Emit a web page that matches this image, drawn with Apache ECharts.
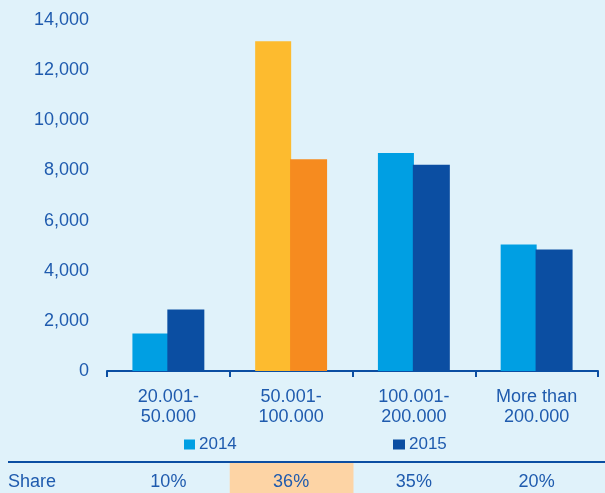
<!DOCTYPE html>
<html>
<head>
<meta charset="utf-8">
<script src="https://cdn.jsdelivr.net/npm/echarts@6/dist/echarts.min.js"></script>
<style>
  html, body { margin: 0; padding: 0; background: #E0F2FA; }
  #chart { width: 605px; height: 493px; }
</style>
</head>
<body>
<div id="chart"></div>
<script>
// Income bands and counts per year
const categories = ['20.001-\n50.000', '50.001-\n100.000', '100.001-\n200.000', 'More than\n200.000'];
const values2014 = [1500, 13150, 8700, 5050];
const values2015 = [2450, 8450, 8230, 4850];
const shareLabels = ['10%', '36%', '35%', '20%'];
const highlightIndex = 1;

const TEXT = '#1F5BAE';
const C2014 = '#009FE3';
const C2015 = '#0B4EA2';
const HL2014 = '#FDBB2F';
const HL2015 = '#F68B1F';
const FONT = 'Liberation Sans, Arial, sans-serif';

function itemsFor(values, base, hl) {
  return values.map((v, i) => i === highlightIndex
    ? { value: v, itemStyle: { color: hl } }
    : { value: v, itemStyle: { color: base } });
}

const chart = echarts.init(document.getElementById('chart'), null, { renderer: 'canvas' });

const option = {
  backgroundColor: '#E0F2FA',
  animation: false,
  textStyle: { fontFamily: FONT },
  grid: { left: 107, right: 7, top: 20, bottom: 122 },
  legend: [
    {
      data: ['2014'], left: 184, top: 436, padding: 0, itemWidth: 11, itemHeight: 10, itemGap: 0,
      icon: 'rect',
      textStyle: { color: TEXT, fontSize: 17, fontFamily: FONT, padding: [0, 0, 0, -1] }
    },
    {
      data: ['2015'], left: 393, top: 436, padding: 0, itemWidth: 12, itemHeight: 10, itemGap: 0,
      icon: 'rect',
      textStyle: { color: TEXT, fontSize: 17, fontFamily: FONT, padding: [0, 0, 0, -1] }
    }
  ],
  xAxis: {
    type: 'category',
    data: categories,
    axisLine: { lineStyle: { color: C2015, width: 2 } },
    axisTick: { show: true, length: 6, lineStyle: { color: C2015, width: 2 } },
    axisLabel: { color: TEXT, fontSize: 18, fontFamily: FONT, margin: 16, lineHeight: 20 }
  },
  yAxis: {
    type: 'value',
    min: 0, max: 14000, interval: 2000,
    axisLine: { show: false },
    axisTick: { show: false },
    splitLine: { show: false },
    axisLabel: {
      color: TEXT, fontSize: 18, fontFamily: FONT, margin: 18,
      formatter: v => v.toLocaleString('en-US')
    }
  },
  series: [
    {
      name: '2014', type: 'bar', barWidth: 36, barGap: '-3%',
      itemStyle: { color: C2014 },
      data: itemsFor(values2014, C2014, HL2014)
    },
    {
      name: '2015', type: 'bar', barWidth: 37,
      itemStyle: { color: C2015 },
      data: itemsFor(values2015, C2015, HL2015)
    }
  ]
};

chart.setOption(option);

// Share row under the chart, aligned to the category centres
const half = chart.convertToPixel({ xAxisIndex: 0 }, 1) - chart.convertToPixel({ xAxisIndex: 0 }, 0);
const centers = categories.map((c, i) => chart.convertToPixel({ xAxisIndex: 0 }, i));
const graphics = [
  {
    type: 'rect',
    shape: { x: centers[highlightIndex] - half / 2, y: 463, width: half + 1, height: 30 },
    style: { fill: '#FDD4A5' }, z: 1
  },
  {
    type: 'line',
    shape: { x1: 8, y1: 462, x2: 605, y2: 462 },
    style: { stroke: C2015, lineWidth: 2 }, z: 2
  },
  {
    type: 'text', x: 8, y: 482, z: 3,
    style: { text: 'Share', fill: TEXT, font: '18px ' + FONT, verticalAlign: 'middle' }
  }
];
shareLabels.forEach((s, i) => {
  graphics.push({
    type: 'text', x: centers[i], y: 482, z: 3,
    style: { text: s, fill: TEXT, font: '18px ' + FONT, align: 'center', verticalAlign: 'middle' }
  });
});
chart.setOption({ graphic: graphics });
</script>
</body>
</html>
